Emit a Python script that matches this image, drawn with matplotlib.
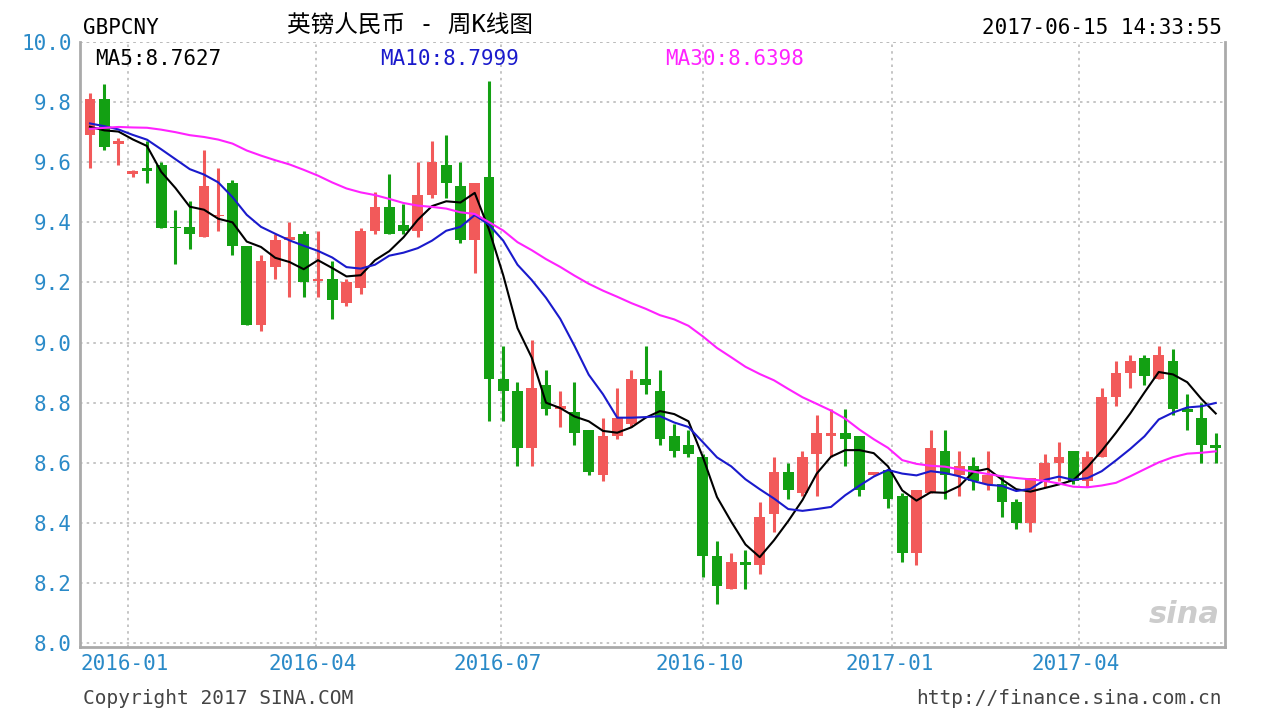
import numpy as np
import matplotlib as mpl
mpl.use('Agg')
from matplotlib import pyplot as plt

# weekly GBPCNY candles
opens = [9.69, 9.81, 9.66, 9.56, 9.58, 9.59, 9.385, 9.385, 9.35, 9.42,
         9.53, 9.32, 9.06, 9.25, 9.34, 9.36, 9.205, 9.21, 9.13, 9.18,
         9.37, 9.45, 9.39, 9.37, 9.49, 9.59, 9.52, 9.34, 9.55, 8.88,
         8.84, 8.65, 8.86, 8.78, 8.77, 8.71, 8.56, 8.69, 8.73, 8.88,
         8.84, 8.69, 8.66, 8.62, 8.29, 8.18, 8.27, 8.26, 8.43, 8.57,
         8.50, 8.63, 8.69, 8.70, 8.69, 8.56, 8.575, 8.49, 8.30, 8.50,
         8.64, 8.56, 8.59, 8.53, 8.53, 8.47, 8.40, 8.54, 8.60, 8.64,
         8.54, 8.62, 8.82, 8.90, 8.95, 8.88, 8.94, 8.78, 8.75, 8.66]
closes = [9.81, 9.65, 9.67, 9.57, 9.57, 9.38, 9.38, 9.36, 9.52, 9.42,
          9.32, 9.06, 9.27, 9.34, 9.35, 9.20, 9.21, 9.14, 9.20, 9.37,
          9.45, 9.36, 9.37, 9.49, 9.60, 9.53, 9.34, 9.53, 8.88, 8.84,
          8.65, 8.85, 8.78, 8.79, 8.70, 8.57, 8.69, 8.75, 8.88, 8.86,
          8.68, 8.64, 8.63, 8.29, 8.19, 8.27, 8.26, 8.42, 8.57, 8.51,
          8.62, 8.70, 8.70, 8.68, 8.51, 8.57, 8.48, 8.30, 8.51, 8.65,
          8.56, 8.59, 8.54, 8.56, 8.47, 8.40, 8.55, 8.60, 8.62, 8.54,
          8.62, 8.82, 8.90, 8.94, 8.89, 8.96, 8.78, 8.77, 8.66, 8.65]
highs = [9.83, 9.86, 9.68, 9.575, 9.67, 9.60, 9.44, 9.47, 9.64, 9.58,
         9.54, 9.32, 9.29, 9.36, 9.40, 9.37, 9.37, 9.27, 9.21, 9.38,
         9.50, 9.56, 9.46, 9.60, 9.67, 9.69, 9.60, 9.53, 9.87, 8.99,
         8.87, 9.01, 8.91, 8.84, 8.87, 8.71, 8.75, 8.85, 8.91, 8.99,
         8.91, 8.73, 8.71, 8.63, 8.34, 8.30, 8.31, 8.47, 8.62, 8.60,
         8.64, 8.76, 8.78, 8.78, 8.69, 8.57, 8.58, 8.50, 8.51, 8.71,
         8.71, 8.64, 8.62, 8.64, 8.56, 8.48, 8.55, 8.63, 8.67, 8.64,
         8.64, 8.85, 8.94, 8.96, 8.96, 8.99, 8.98, 8.83, 8.80, 8.70]
lows = [9.58, 9.64, 9.59, 9.55, 9.53, 9.38, 9.26, 9.31, 9.35, 9.37,
        9.29, 9.06, 9.04, 9.21, 9.15, 9.15, 9.15, 9.08, 9.12, 9.16,
        9.36, 9.36, 9.36, 9.35, 9.48, 9.48, 9.33, 9.23, 8.74, 8.74,
        8.59, 8.59, 8.76, 8.72, 8.66, 8.56, 8.54, 8.68, 8.72, 8.83,
        8.66, 8.62, 8.62, 8.22, 8.13, 8.18, 8.18, 8.23, 8.37, 8.48,
        8.49, 8.49, 8.62, 8.59, 8.49, 8.56, 8.45, 8.27, 8.26, 8.50,
        8.48, 8.49, 8.51, 8.51, 8.42, 8.38, 8.37, 8.52, 8.54, 8.53,
        8.52, 8.62, 8.79, 8.85, 8.86, 8.88, 8.76, 8.71, 8.60, 8.60]

# closes of the 29 weeks before the first candle (needed for the moving averages)
prior_closes = [9.55, 9.58, 9.62, 9.60, 9.57, 9.63, 9.66, 9.70, 9.68, 9.72,
                9.75, 9.78, 9.80, 9.77, 9.74, 9.79, 9.82, 9.80, 9.76, 9.72,
                9.74, 9.78, 9.75, 9.73, 9.70, 9.71, 9.69, 9.70, 9.68]

# values printed in the header
ma_labels = ['MA5:8.7627', 'MA10:8.7999', 'MA30:8.6398']

quarter_labels = ['2016-01', '2016-04', '2016-07', '2016-10', '2017-01', '2017-04']
quarter_pos = [2.67, 15.86, 28.84, 43.0, 56.3, 69.4]

plt.rcParams['font.family'] = ['DejaVu Sans Mono', 'Noto Sans CJK SC']

allc = np.array(prior_closes + closes)
n0 = len(prior_closes)


def ma(k):
    return np.array([allc[n0 + i - k + 1:n0 + i + 1].mean() for i in range(len(closes))])


ma5, ma10, ma30 = ma(5), ma(10), ma(30)

RED = '#f25a5a'
GREEN = '#13a013'
BLUE = '#1a1acc'
MAGENTA = '#ff22ff'

fig = plt.figure(figsize=(12.8, 7.18), dpi=100)
ax = fig.add_axes([80 / 1280, 1 - 647 / 718, 1145 / 1280, 605 / 718])

x = np.arange(len(closes))
for i in x:
    o, c, h, l = opens[i], closes[i], highs[i], lows[i]
    col = RED if c >= o else GREEN
    ax.vlines(i, l, h, color=col, lw=2.2, zorder=2)
    bot, top = min(o, c), max(o, c)
    ax.bar(i, max(top - bot, 0.006), bottom=bot, width=0.75, color=col, lw=0, zorder=3)

ax.plot(x, ma5, color='black', lw=1.5, zorder=4)
ax.plot(x, ma10, color=BLUE, lw=1.5, zorder=4)
ax.plot(x, ma30, color=MAGENTA, lw=1.5, zorder=4)

ax.set_xlim(-0.7, 79.65)
ax.set_ylim(7.987, 10.0)
ax.set_yticks(np.arange(8.0, 10.01, 0.2))
ax.set_yticklabels(['%.1f' % v for v in np.arange(8.0, 10.01, 0.2)])
ax.tick_params(axis='y', length=0, labelsize=15, labelcolor='#2a8ac8', pad=6)
ax.set_xticks(quarter_pos)
ax.set_xticklabels([])
ax.tick_params(axis='x', length=0)
ax.grid(True, color='#bbbbbb', ls=(0, (1.5, 2.5)), lw=1.2)
ax.axhline(10.0, color='#bbbbbb', ls=(0, (1.5, 2.5)), lw=1.2)
for s in ['left', 'bottom', 'right']:
    ax.spines[s].set_color('#aaaaaa')
    ax.spines[s].set_linewidth(2)
ax.spines['top'].set_visible(False)

for i, (lab, p) in enumerate(zip(quarter_labels, quarter_pos)):
    if i == 0:
        ax.text(-0.7, -0.012, lab, transform=ax.get_xaxis_transform(), ha='left', va='top',
                fontsize=15, color='#2a8ac8')
    else:
        ax.text(p - 0.2, -0.012, lab, transform=ax.get_xaxis_transform(), ha='center', va='top',
                fontsize=15, color='#2a8ac8')

fig.text(83 / 1280, 1 - 28 / 718, 'GBPCNY', fontsize=15, va='center', ha='left')
fig.text(410 / 1280, 1 - 26 / 718, '英镑人民币 - 周K线图', fontsize=17, va='center', ha='center')
fig.text(1222 / 1280, 1 - 28 / 718, '2017-06-15 14:33:55', fontsize=15, va='center', ha='right')
for lab, xp, col in zip(ma_labels, [95, 380, 665], ['black', BLUE, MAGENTA]):
    fig.text(xp / 1280, 1 - 59 / 718, lab, fontsize=15, va='center', color=col)
fig.text(83 / 1280, 1 - 698 / 718, 'Copyright 2017 SINA.COM', fontsize=14, va='center', color='#444444')
fig.text(1222 / 1280, 1 - 698 / 718, 'http://finance.sina.com.cn', fontsize=14, va='center', ha='right',
         color='#444444')
ax.text(0.995, 0.03, 'sina', transform=ax.transAxes, ha='right', va='bottom', fontsize=22,
        style='italic', weight='bold', color='#cccccc', family='DejaVu Sans', zorder=1)

fig.savefig('out.png', dpi=100)
